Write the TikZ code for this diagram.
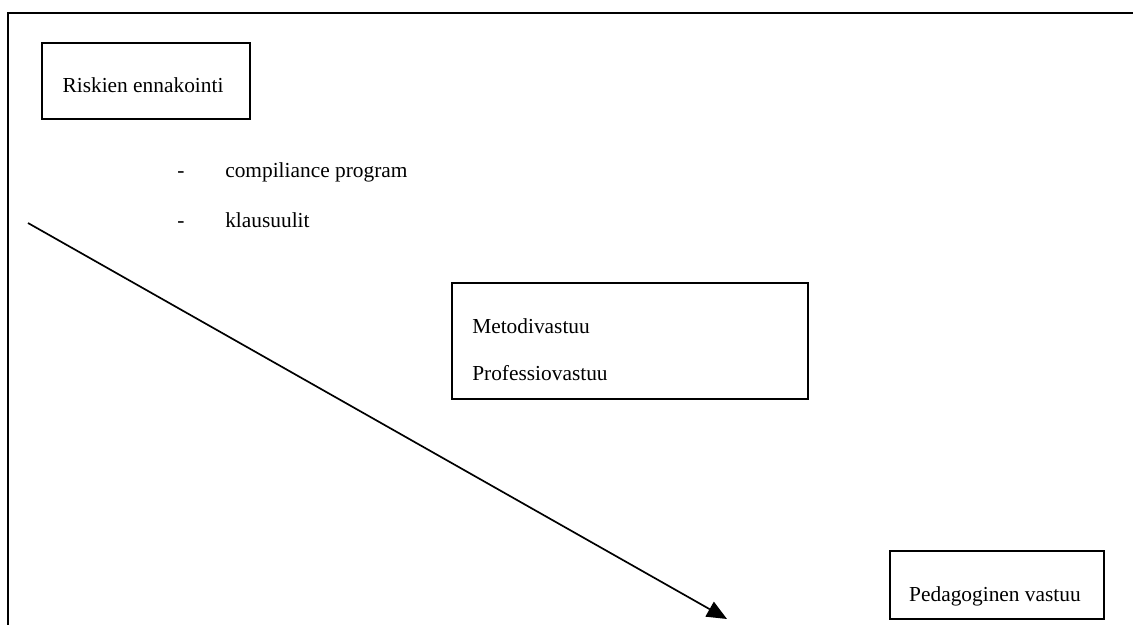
\documentclass[tikz,border=0pt]{standalone}
\usepackage{fontspec}
\setmainfont{Liberation Serif}
\usetikzlibrary{arrows.meta}
\tikzset{%
	box/.style={draw,line width=1.3pt,rectangle,inner sep=0pt},
	txt/.style={inner sep=0pt,font=\fontsize{15.2}{18.2}\selectfont}
}

\begin{document}
\begin{tikzpicture}[x=0.025cm,y=-0.025cm]
		\useasboundingbox (0,0) rectangle (1133,625);

		\coordinate (f1) at (8,625);
		\coordinate (f2) at (8,13);
		\coordinate (f3) at (1133,13);
		\draw [line width=2pt] (f1)--(f2)--(f3);

		\node [box,minimum width=5.2cm,minimum height=1.9cm] (risk) at (146,81) {};
		\node [box,minimum width=8.9cm,minimum height=2.9cm] (metodi) at (630,341) {};
		\node [box,minimum width=5.35cm,minimum height=1.7cm] (peda) at (997,585) {};

		\node [txt,anchor=base] (risktxt) at (143,92) {Riskien ennakointi};
		\node [txt,anchor=base west] (metoditxt) at (472,333) {Metodivastuu};
		\node [txt,anchor=base west] (proftxt) at (472,380) {Professiovastuu};
		\node [txt,anchor=base] (pedatxt) at (995,601) {Pedagoginen vastuu};

		\node [txt,anchor=base] (dash1) at (181,177) {-};
		\node [txt,anchor=base west] (compl) at (225,177) {compiliance program};
		\node [txt,anchor=base] (dash2) at (181,227) {-};
		\node [txt,anchor=base west] (klaus) at (225,227) {klausuulit};

		\coordinate (a1) at (28,223);
		\coordinate (a2) at (727,619);
		\draw [line width=1.2pt,-{Triangle[length=0.5cm,width=0.42cm]}] (a1)--(a2);

	\end{tikzpicture}
\end{document}
